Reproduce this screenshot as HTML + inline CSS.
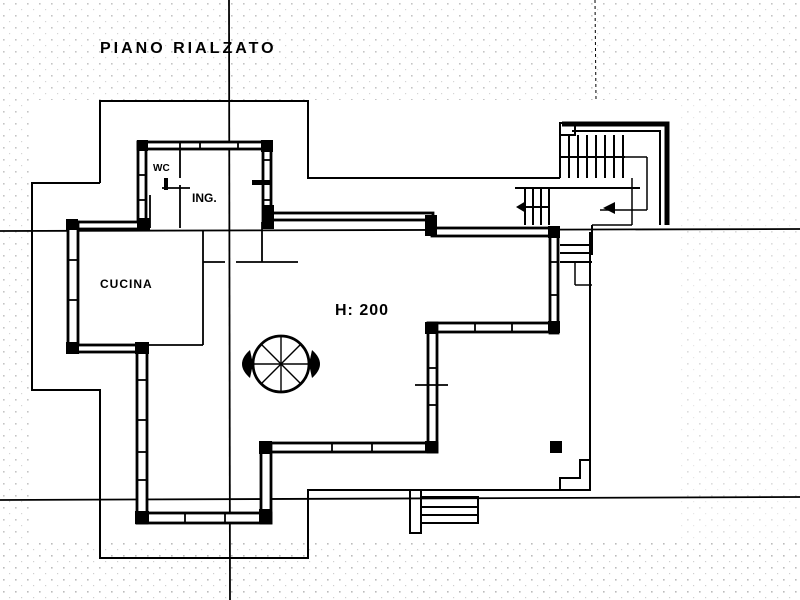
<!DOCTYPE html>
<html><head><meta charset="utf-8"><style>
html,body{margin:0;padding:0;background:#fff;width:800px;height:600px;overflow:hidden}
svg{display:block}
text{font-family:"Liberation Sans",sans-serif;font-weight:bold;fill:#000}
</style></head><body>
<svg width="800" height="600" viewBox="0 0 800 600" xmlns="http://www.w3.org/2000/svg">
<defs>
<pattern id="dots" width="12" height="12" patternUnits="userSpaceOnUse">
<rect x="3" y="3" width="1.6" height="1.6" fill="#555"/>
<rect x="9" y="9" width="1.2" height="1.2" fill="#888"/>
</pattern>
</defs>
<rect width="800" height="600" fill="#fff"/>
<rect x="0" y="0" width="800" height="100" fill="url(#dots)" opacity="0.35"/>
<rect x="0" y="540" width="800" height="60" fill="url(#dots)" opacity="0.4"/>
<rect x="0" y="100" width="30" height="440" fill="url(#dots)" opacity="0.35"/>
<rect x="680" y="100" width="120" height="440" fill="url(#dots)" opacity="0.2"/>

<g stroke="#000" fill="none">
<line x1="0" y1="231" x2="800" y2="229" stroke-width="1.8"/>
<line x1="0" y1="500" x2="800" y2="497" stroke-width="1.8"/>
<line x1="229" y1="0" x2="230" y2="600" stroke-width="1.8"/>
<line x1="595" y1="0" x2="596" y2="100" stroke-width="1" stroke-dasharray="3 3"/>
</g>

<g stroke="#000" fill="none" stroke-width="2">
<polyline points="100,183 100,101 308,101 308,178 560,178"/>
<polyline points="100,183 32,183 32,390 100,390 100,558 308,558 308,490 590,490 590,232"/>
<line x1="515" y1="188" x2="640" y2="188"/>
<polyline points="592,225 592,255"/>
<polyline points="590,460 580,460 580,478 560,478 560,490"/>
</g>

<g fill="#fff" stroke="#000" stroke-width="2.8">
<rect x="138" y="142" width="133" height="7"/>
<rect x="138" y="142" width="8" height="85"/>
<rect x="263" y="142" width="8" height="80"/>
<rect x="268" y="213" width="165" height="7"/>
<rect x="432" y="228" width="126" height="8"/>
<rect x="550" y="228" width="8" height="105"/>
<rect x="428" y="323" width="130" height="9"/>
<rect x="428" y="323" width="9" height="129"/>
<rect x="261" y="443" width="176" height="9"/>
<rect x="261" y="443" width="10" height="80"/>
<rect x="137" y="513" width="134" height="10"/>
<rect x="137" y="345" width="10" height="178"/>
<rect x="68" y="222" width="78" height="7"/>
<rect x="68" y="222" width="10" height="130"/>
<rect x="68" y="345" width="79" height="7"/>
</g>
<g stroke="#000" stroke-width="1.8" fill="none">
<line x1="203" y1="230" x2="203" y2="345"/>
<line x1="147" y1="345" x2="203" y2="345"/>
<line x1="203" y1="262" x2="225" y2="262"/>
<line x1="236" y1="262" x2="298" y2="262"/>
<line x1="262" y1="222" x2="262" y2="262"/>
<line x1="162" y1="188" x2="190" y2="188"/>
<line x1="180" y1="185" x2="180" y2="228"/>
<line x1="180" y1="142" x2="180" y2="178"/>
<line x1="150" y1="195" x2="150" y2="228"/>
<line x1="475" y1="323" x2="475" y2="332"/><line x1="512" y1="323" x2="512" y2="332"/>
<line x1="332" y1="443" x2="332" y2="452"/><line x1="372" y1="443" x2="372" y2="452"/>
<line x1="185" y1="513" x2="185" y2="523"/><line x1="225" y1="513" x2="225" y2="523"/>
<line x1="137" y1="380" x2="147" y2="380"/><line x1="137" y1="420" x2="147" y2="420"/><line x1="137" y1="452" x2="147" y2="452"/><line x1="137" y1="480" x2="147" y2="480"/>
<line x1="68" y1="260" x2="78" y2="260"/><line x1="68" y1="300" x2="78" y2="300"/>
<line x1="550" y1="262" x2="558" y2="262"/><line x1="550" y1="295" x2="558" y2="295"/>
<line x1="428" y1="368" x2="437" y2="368"/><line x1="428" y1="405" x2="437" y2="405"/>
<line x1="415" y1="385" x2="448" y2="385"/>
<line x1="200" y1="142" x2="200" y2="149"/><line x1="238" y1="142" x2="238" y2="149"/>
<line x1="138" y1="175" x2="146" y2="175"/><line x1="138" y1="200" x2="146" y2="200"/>
<line x1="263" y1="160" x2="271" y2="160"/><line x1="263" y1="200" x2="271" y2="200"/>
</g>
<g fill="#000">
<rect x="137" y="140" width="11" height="11"/><rect x="261" y="140" width="12" height="12"/>
<rect x="137" y="218" width="13" height="12"/><rect x="262" y="205" width="12" height="24"/>
<rect x="425" y="215" width="12" height="21"/><rect x="548" y="226" width="12" height="12"/>
<rect x="548" y="321" width="12" height="12"/><rect x="425" y="322" width="12" height="12"/>
<rect x="425" y="441" width="13" height="12"/><rect x="259" y="441" width="13" height="13"/>
<rect x="259" y="509" width="13" height="15"/><rect x="135" y="511" width="14" height="13"/>
<rect x="135" y="342" width="14" height="12"/><rect x="66" y="219" width="12" height="11"/>
<rect x="66" y="342" width="13" height="12"/><rect x="550" y="441" width="12" height="12"/>
<rect x="252" y="180" width="18" height="5"/><rect x="164" y="178" width="4" height="12"/>
</g>

<g stroke="#000" fill="none">
<polyline points="562,124 667,124 667,225" stroke-width="5"/>
<polyline points="572,131 660,131 660,225" stroke-width="2"/>
<rect x="560" y="123" width="15" height="12" stroke-width="2"/>
<line x1="560" y1="135" x2="560" y2="178" stroke-width="2"/>
<line x1="560" y1="157" x2="625" y2="157" stroke-width="2"/>
<line x1="625" y1="157" x2="647" y2="157" stroke-width="1.5"/>
<line x1="647" y1="157" x2="647" y2="210" stroke-width="1.5"/>
<line x1="600" y1="210" x2="647" y2="210" stroke-width="1.5"/>
<line x1="632" y1="178" x2="632" y2="225" stroke-width="1.5"/>
<line x1="592" y1="225" x2="632" y2="225" stroke-width="1.5"/>
<g stroke-width="2">
<line x1="569" y1="135" x2="569" y2="178"/><line x1="578" y1="135" x2="578" y2="178"/><line x1="587" y1="135" x2="587" y2="178"/><line x1="596" y1="135" x2="596" y2="178"/><line x1="605" y1="135" x2="605" y2="178"/><line x1="614" y1="135" x2="614" y2="178"/><line x1="623" y1="135" x2="623" y2="178"/>
<line x1="525" y1="188" x2="525" y2="225"/><line x1="533" y1="188" x2="533" y2="225"/><line x1="541" y1="188" x2="541" y2="225"/><line x1="549" y1="188" x2="549" y2="225"/>
<line x1="525" y1="207" x2="549" y2="207"/>
<line x1="560" y1="245" x2="592" y2="245"/><line x1="560" y1="253" x2="592" y2="253"/><line x1="560" y1="262" x2="592" y2="262"/>
</g>
<line x1="575" y1="262" x2="575" y2="285" stroke-width="1.5"/>
<line x1="575" y1="285" x2="592" y2="285" stroke-width="1.5"/>
</g>
<polygon points="603,208 615,202 615,214" fill="#000"/>
<polygon points="516,207 526,201 526,213" fill="#000"/>

<g stroke="#000" fill="none" stroke-width="2.8">
<circle cx="281" cy="364" r="28"/>
<g stroke-width="1.4">
<line x1="253" y1="364" x2="309" y2="364"/><line x1="281" y1="336" x2="281" y2="392"/>
<line x1="261" y1="344" x2="301" y2="384"/><line x1="301" y1="344" x2="261" y2="384"/>
</g>
</g>
<path d="M250,350 Q234,364 250,378 L253,364 Z" fill="#000"/>
<path d="M312,350 Q328,364 312,378 L309,364 Z" fill="#000"/>

<g stroke="#000" fill="none" stroke-width="2">
<rect x="410" y="490" width="11" height="43"/>
<polyline points="421,497 478,497 478,523 421,523"/>
<line x1="421" y1="507" x2="478" y2="507"/><line x1="421" y1="515" x2="478" y2="515"/>
</g>

<text x="100" y="53" font-size="16" letter-spacing="3">PIANO  RIALZATO</text>
<text x="100" y="288" font-size="12" letter-spacing="1">CUCINA</text>
<text x="335" y="315" font-size="16" letter-spacing="1">H: 200</text>
<text x="153" y="171" font-size="10">WC</text>
<text x="192" y="202" font-size="12">ING.</text>
</svg>
</body></html>
